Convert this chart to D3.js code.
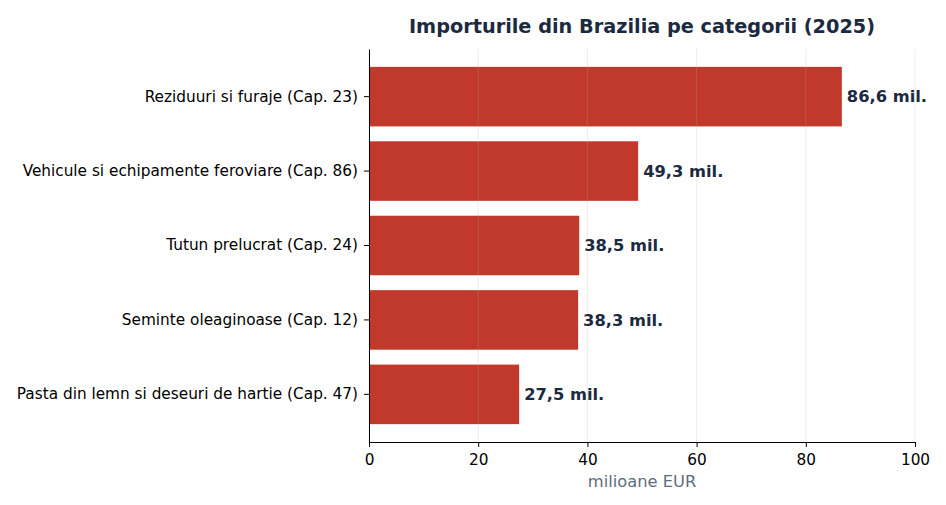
<!DOCTYPE html>
<html lang="ro">
<head>
  <meta charset="UTF-8">
  <title>Importurile din Brazilia pe categorii (2025)</title>
  <style>
    body { margin: 0; background: #fff; font-family: "DejaVu Sans", sans-serif; }
    .tick text { font-size: 15.3px; fill: #000; }
  </style>
  <script src="https://d3js.org/d3.v7.min.js"></script>
</head>
<body>
  <div id="chart"></div>
  <script>
    const categories = [
      "Reziduuri si furaje (Cap. 23)",
      "Vehicule si echipamente feroviare (Cap. 86)",
      "Tutun prelucrat (Cap. 24)",
      "Seminte oleaginoase (Cap. 12)",
      "Pasta din lemn si deseuri de hartie (Cap. 47)"
    ];
    const values = [86.6, 49.3, 38.5, 38.3, 27.5];
    const xTicks = [0, 20, 40, 60, 80, 100];

    const width = 946, height = 505;
    const margin = { top: 49, right: 31, bottom: 63, left: 369 };

    const svg = d3.select("#chart").append("svg")
      .attr("width", width)
      .attr("height", height);

    const x = d3.scaleLinear().domain([0, 100]).range([margin.left, width - margin.right]);
    const y = d3.scaleBand().domain(categories)
      .range([margin.top, height - margin.bottom])
      .paddingInner(0.2).paddingOuter(0.24);

    // bars
    svg.selectAll("rect.bar")
      .data(values)
      .enter().append("rect")
      .attr("class", "bar")
      .attr("x", x(0))
      .attr("y", (d, i) => y(categories[i]))
      .attr("width", d => x(d) - x(0))
      .attr("height", y.bandwidth())
      .attr("fill", "#c0392b");

    // grid on top of bars
    svg.selectAll("line.grid")
      .data(xTicks)
      .enter().append("line")
      .attr("class", "grid")
      .attr("x1", d => x(d)).attr("x2", d => x(d))
      .attr("y1", margin.top).attr("y2", height - margin.bottom)
      .attr("stroke", "#b0b0b0")
      .attr("stroke-opacity", 0.3)
      .attr("stroke-width", 0.8);

    // value labels
    svg.selectAll("text.val")
      .data(values)
      .enter().append("text")
      .attr("class", "val")
      .attr("x", d => x(d) + 5)
      .attr("y", (d, i) => y(categories[i]) + y.bandwidth() / 2)
      .attr("dy", "0.35em")
      .attr("font-size", 16.3)
      .attr("font-weight", "bold")
      .attr("fill", "#1c2a40")
      .text(d => d.toFixed(1).replace(".", ",") + " mil.");

    // axes
    const xAxis = svg.append("g")
      .attr("transform", `translate(0,${height - margin.bottom})`)
      .call(d3.axisBottom(x).tickValues(xTicks).tickSize(5).tickPadding(5).tickSizeOuter(0));
    const yAxis = svg.append("g")
      .attr("transform", `translate(${margin.left},0)`)
      .call(d3.axisLeft(y).tickSize(5).tickPadding(6).tickSizeOuter(0));
    [xAxis, yAxis].forEach(g => {
      g.select(".domain").attr("stroke", "#000").attr("stroke-width", 1);
      g.selectAll(".tick line").attr("stroke", "#000");
      g.selectAll(".tick text").attr("font-family", "DejaVu Sans, sans-serif");
    });
    xAxis.selectAll(".tick text").attr("dy", "0.85em");

    // axis label
    svg.append("text")
      .attr("x", (x(0) + x(100)) / 2)
      .attr("y", 487)
      .attr("text-anchor", "middle")
      .attr("font-size", 16.3)
      .attr("fill", "#5d6d7e")
      .text("milioane EUR");

    // title
    svg.append("text")
      .attr("x", (x(0) + x(100)) / 2)
      .attr("y", 33)
      .attr("text-anchor", "middle")
      .attr("font-size", 19.3)
      .attr("font-weight", "bold")
      .attr("fill", "#1c2a40")
      .text("Importurile din Brazilia pe categorii (2025)");
  </script>
</body>
</html>
